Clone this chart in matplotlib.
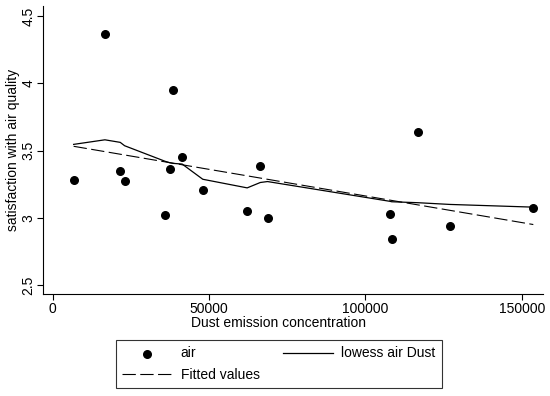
import matplotlib.pyplot as plt
import numpy as np

plt.rcParams['font.family'] = ['Liberation Sans', 'DejaVu Sans']

# dust emission concentration and satisfaction with air quality
dust = [6700, 16700, 21600, 23000, 36000, 37400, 38500, 41400, 48000,
        62200, 66400, 68700, 107900, 108400, 116700, 127100, 153700]
air = [3.285, 4.367, 3.347, 3.275, 3.019, 3.36, 3.951, 3.454, 3.205,
       3.051, 3.387, 3.0, 3.031, 2.84, 3.636, 2.937, 3.076]
# lowess smooth, read at each dust value
lowess = [3.546, 3.58, 3.561, 3.536, 3.42, 3.41, 3.405, 3.40, 3.287,
          3.223, 3.263, 3.27, 3.123, 3.12, 3.113, 3.10, 3.08]

xticks = [0, 50000, 100000, 150000]
yticks = [2.5, 3, 3.5, 4, 4.5]

x = np.array(dust)
y = np.array(air)
b, a = np.polyfit(x, y, 1)
fitted = a + b * x

fig = plt.figure(figsize=(5.5, 3.96), dpi=100)
ax = fig.add_axes([0.0776, 0.2576, 0.9091, 0.726])

pts = ax.scatter(x, y, s=30, color='black', zorder=3, label='air')
fl, = ax.plot(x, fitted, color='black', lw=0.8, dashes=(12, 4), label='Fitted values')
lw, = ax.plot(x, lowess, color='black', lw=0.9, label='lowess air Dust')

ax.set_xlim(-3200, 156700)
ax.set_ylim(2.435, 4.57)
ax.set_xticks(xticks)
ax.set_xticklabels([str(t) for t in xticks])
ax.set_yticks(yticks)
ax.set_yticklabels([('%g' % t) for t in yticks], rotation=90, va='center')
ax.tick_params(labelsize=10, length=4, width=0.8, pad=2)
ax.tick_params(axis='y', pad=1)
for s in ['top', 'right']:
	ax.spines[s].set_visible(False)
for s in ['left', 'bottom']:
	ax.spines[s].set_linewidth(0.8)

ax.set_xlabel('Dust emission concentration', fontsize=10, labelpad=0)
ax.xaxis.set_label_coords(0.4726, -0.078)
ax.set_ylabel('satisfaction with air quality', fontsize=10, labelpad=1)

leg = fig.legend([pts, fl, lw], ['air', 'Fitted values', 'lowess air Dust'],
                 ncol=2, loc='lower left', mode='expand',
                 bbox_to_anchor=(0.211, 0.0194, 0.592, 0.12),
                 fontsize=10, frameon=True, fancybox=False, edgecolor='black',
                 handlelength=3.6, handletextpad=0.6, borderpad=0.45,
                 borderaxespad=0, labelspacing=0.55, columnspacing=1.0,
                 scatterpoints=1)
leg.get_frame().set_linewidth(0.8)

fig.savefig('out.png', dpi=100)
